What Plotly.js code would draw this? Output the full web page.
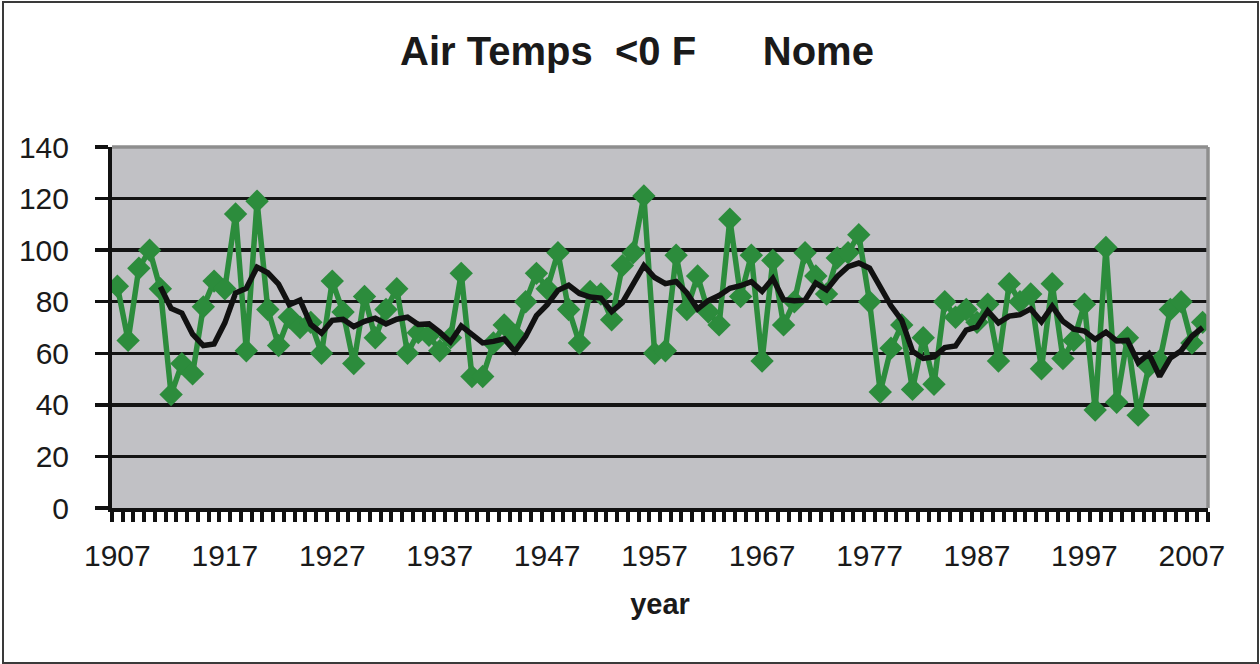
<!DOCTYPE html>
<html>
<head>
<meta charset="utf-8">
<script src="https://cdn.plot.ly/plotly-3.0.1.min.js"></script>
<style>
  html, body { margin: 0; padding: 0; background: #ffffff; }
  #wrap { position: relative; width: 1260px; height: 664px; }
  #chart { width: 1260px; height: 664px; }
  #frame { position: absolute; left: 2px; top: 1px; width: 1253px; height: 659px;
           border: 2px solid #3a3a3a; pointer-events: none; }
</style>
</head>
<body>
<div id="wrap">
  <div id="chart"></div>
  <div id="frame"></div>
</div>
<script>
// Categories: years
var years = [1907,1908,1909,1910,1911,1912,1913,1914,1915,1916,1917,1918,1919,1920,1921,1922,1923,1924,1925,1926,
             1927,1928,1929,1930,1931,1932,1933,1934,1935,1936,1937,1938,1939,1940,1941,1942,1943,1944,1945,1946,
             1947,1948,1949,1950,1951,1952,1953,1954,1955,1956,1957,1958,1959,1960,1961,1962,1963,1964,1965,1966,
             1967,1968,1969,1970,1971,1972,1973,1974,1975,1976,1977,1978,1979,1980,1981,1982,1983,1984,1985,1986,
             1987,1988,1989,1990,1991,1992,1993,1994,1995,1996,1997,1998,1999,2000,2001,2002,2003,2004,2005,2006,
             2007,2008];

// Number of days with air temperature below 0 F at Nome
var daysBelowZero = [86,65,93,100,85,44,56,52,78,88,85,114,61,119,77,63,74,70,72,60,
                     88,76,56,82,66,77,85,60,68,67,61,66,91,51,51,64,71,67,80,91,
                     85,99,77,64,84,83,73,94,99,121,60,61,98,77,90,76,71,112,82,98,
                     57,96,71,80,99,90,83,97,99,106,80,45,62,71,46,66,48,80,74,77,
                     72,79,57,87,80,83,54,87,58,65,79,38,101,41,66,36,55,57,77,80,
                     64,72];

// Tick labels on the category axis
var tickYears  = [1907,1917,1927,1937,1947,1957,1967,1977,1987,1997,2007];
var tickLabels = ['1907','1917','1927','1937','1947','1957','1967','1977','1987','1997','2007'];

// 5-period moving average trendline (as in the original spreadsheet chart)
var maPeriod = 5;
var maX = [], maY = [];
for (var i = maPeriod - 1; i < daysBelowZero.length; i++) {
  var s = 0;
  for (var k = 0; k < maPeriod; k++) s += daysBelowZero[i - k];
  maX.push(years[i]);
  maY.push(s / maPeriod);
}

var green = 'rgb(44,140,60)';
var font = 'Liberation Sans, Arial, Helvetica, sans-serif';

var traces = [
  {
    x: years, y: daysBelowZero, type: 'scatter', mode: 'lines+markers',
    line: { color: green, width: 5.5 },
    marker: { symbol: 'diamond', size: 18, color: green, line: { width: 0 } },
    hoverinfo: 'skip'
  },
  {
    x: maX, y: maY, type: 'scatter', mode: 'lines',
    line: { color: '#111111', width: 5.5 },
    hoverinfo: 'skip'
  }
];

var layout = {
  width: 1260, height: 664,
  margin: { l: 112, r: 52, t: 147, b: 156, pad: 0 },
  paper_bgcolor: '#ffffff',
  plot_bgcolor: '#c1c1c5',
  showlegend: false,
  hovermode: false,
  font: { family: font, color: '#1a1a1a' },
  title: {
    text: 'Air Temps&nbsp;&nbsp;&lt;0 F&nbsp;&nbsp;&nbsp;&nbsp;&nbsp;&nbsp;Nome',
    font: { family: font, size: 40, weight: 'bold', color: '#1a1a1a' },
    x: 637 / 1260, xref: 'container', xanchor: 'center',
    y: 1 - 51 / 664, yref: 'container', yanchor: 'middle'
  },
  xaxis: {
    range: [1906.5, 2008.5],
    tickmode: 'array', tickvals: tickYears, ticktext: tickLabels,
    ticks: '',
    showgrid: false, zeroline: false,
    showline: true, linecolor: '#111111', linewidth: 4,
    tickfont: { family: font, size: 30, color: '#1a1a1a' },
    ticklabelstandoff: 18,
    minor: { tickmode: 'linear', tick0: 1906.5, dtick: 1, ticks: 'outside',
             ticklen: 10, tickwidth: 4, tickcolor: '#111111', showgrid: false },
    title: { text: 'year', font: { family: font, size: 29, weight: 'bold', color: '#1a1a1a' }, standoff: 24 }
  },
  yaxis: {
    range: [0, 140], tickmode: 'linear', tick0: 0, dtick: 20,
    showgrid: true, gridcolor: '#141414', gridwidth: 3.5,
    zeroline: false,
    showline: true, linecolor: '#111111', linewidth: 4,
    ticks: 'outside', ticklen: 13, tickwidth: 3.5, tickcolor: '#111111',
    tickfont: { family: font, size: 30, color: '#1a1a1a' },
    ticklabelstandoff: 20
  },
  shapes: [
    { type: 'line', xref: 'paper', yref: 'paper', x0: 0, x1: 1, y0: 1, y1: 1,
      line: { color: '#8e8e8e', width: 3.5 }, layer: 'above' },
    { type: 'line', xref: 'paper', yref: 'paper', x0: 1, x1: 1, y0: 0, y1: 1,
      line: { color: '#8e8e8e', width: 3.5 }, layer: 'above' }
  ]
};

Plotly.newPlot('chart', traces, layout, { staticPlot: true, displayModeBar: false });
</script>
</body>
</html>
